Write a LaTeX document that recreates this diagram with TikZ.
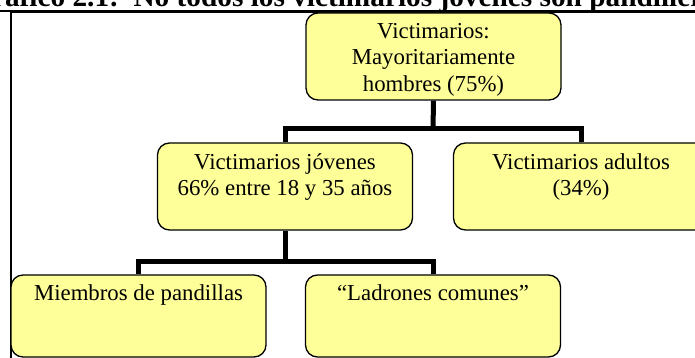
\documentclass[tikz,border=0pt]{standalone}
\usepackage{fontspec}
\setmainfont{Liberation Serif}
\begin{document}
\begin{tikzpicture}[x=1pt,y=-1pt,
  box/.style={draw=black, line width=1.3pt, fill=boxyellow, rounded corners=12pt,
    minimum width=255pt, inner sep=0pt},
  txt/.style={font=\fontsize{22.8}{26.5}\selectfont, align=center, inner sep=0pt, anchor=base},
  conn/.style={line width=5pt, draw=black},
  ttl/.style={font=\fontsize{29.3}{32}\selectfont\bfseries, inner sep=0pt, anchor=base west}]
\definecolor{boxyellow}{RGB}{255,255,153}
\useasboundingbox (0,0) rectangle (695,358);
\clip (0,0) rectangle (695,358);
% title
\node[ttl] (title) at (-31,7) {Gráfico 2.1:\ \ No todos los victimarios jóvenes son pandilleros};
\draw[line width=1.6pt] (0,11) -- (695,11);
% frame
\draw[line width=1.5pt] (11,12.5) rectangle (760,420);
% boxes
\node[box, minimum height=87pt] (top) at (433.5,56.5) {};
\node[box, minimum height=87pt] (ml) at (285,186.5) {};
\node[box, minimum height=87pt] (mr) at (581,186.5) {};
\node[box, minimum height=82pt] (bl) at (138.5,316) {};
\node[box, minimum height=82pt] (bm) at (433,316) {};
% connectors
\coordinate (j1) at (433,129);
\coordinate (j2) at (285,261);
\draw[conn] (top.south) -- (j1);
\draw[conn] (ml.north) |- (j1) -| (mr.north);
\draw[conn] (ml.south) -- (j2);
\draw[conn] (bl.north) |- (j2) -| (bm.north);
% texts (base = baseline of last line)
\node[txt] (ttop) at ([yshift=-79pt]top.north) {Victimarios:\\Mayoritariamente\\hombres (75\%)};
\node[txt] (tml) at ([yshift=-53.5pt]ml.north) {Victimarios jóvenes\\66\% entre 18 y 35 años};
\node[txt] (tmr) at ([yshift=-53.5pt]mr.north) {Victimarios adultos\\(34\%)};
\node[txt] (tbl) at ([yshift=-26pt]bl.north) {Miembros de pandillas};
\node[txt] (tbm) at ([yshift=-26pt]bm.north) {“Ladrones comunes”};
\end{tikzpicture}
\end{document}
